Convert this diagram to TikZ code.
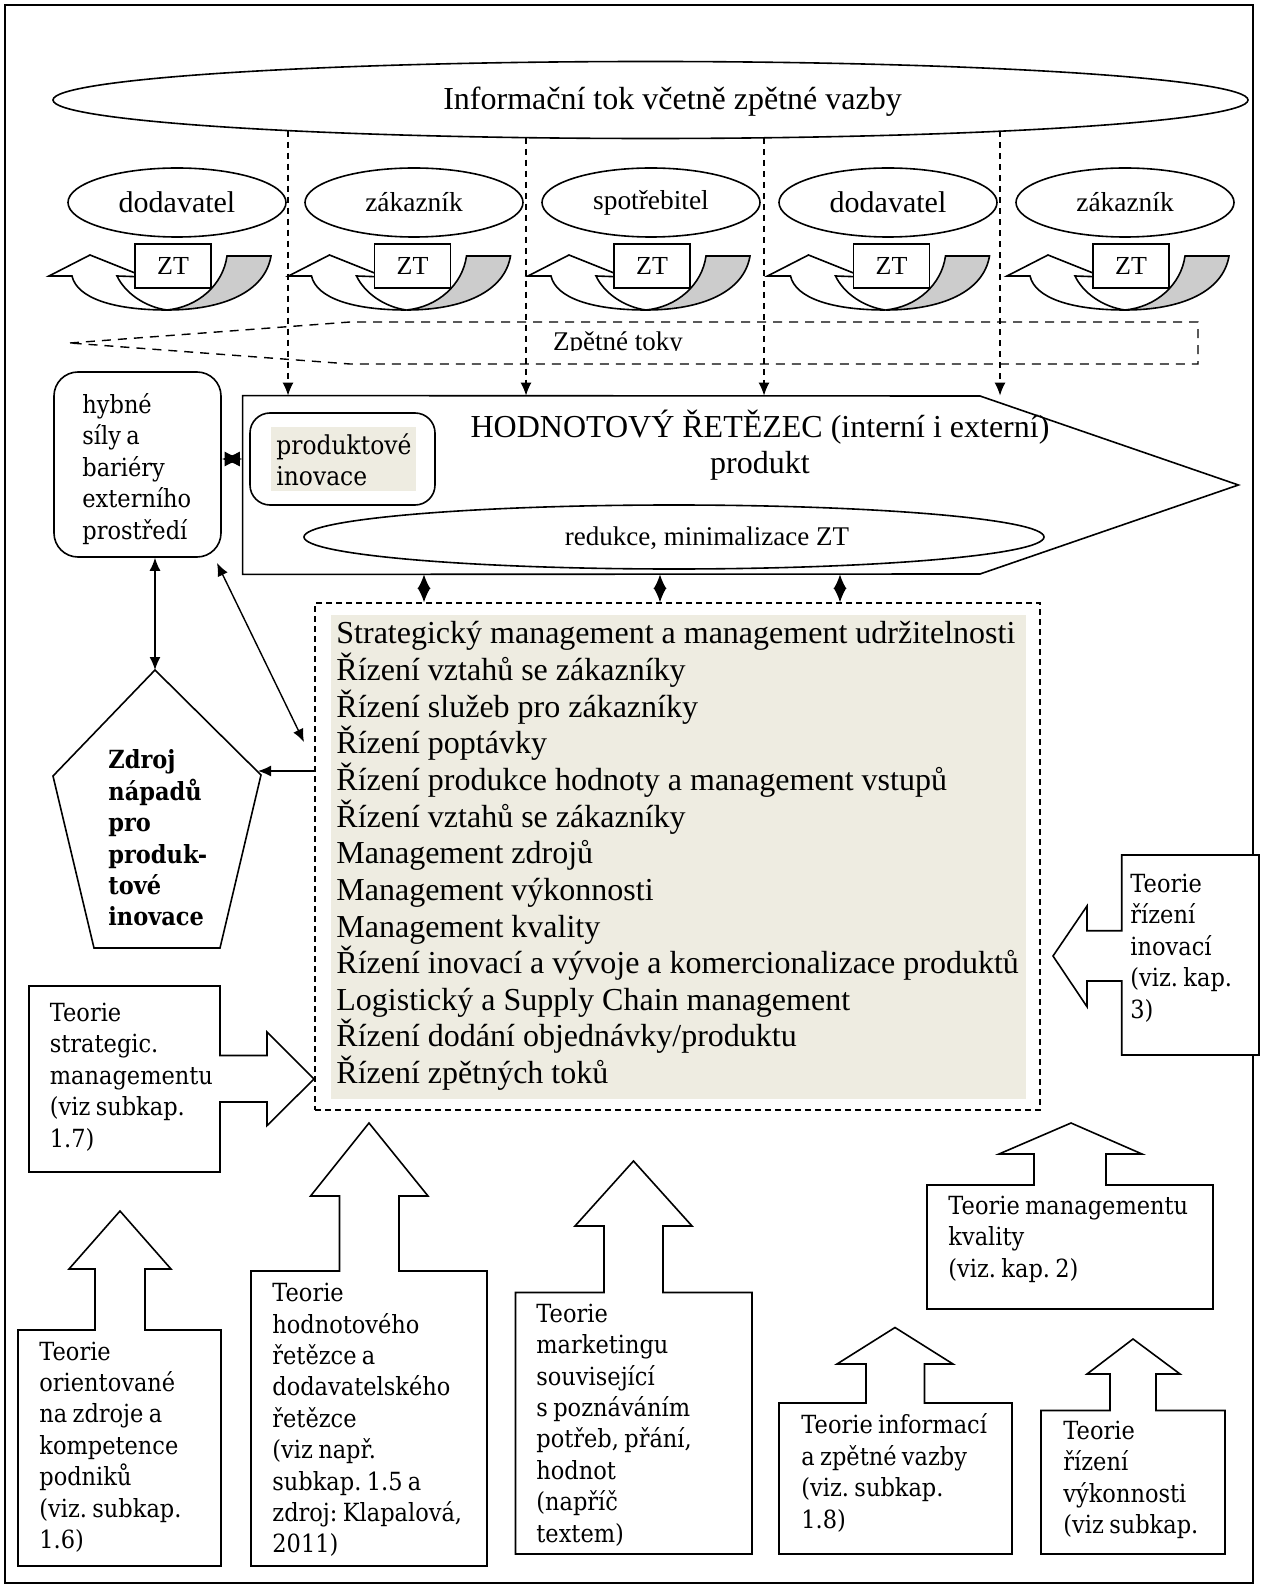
\documentclass[tikz,border=0pt]{standalone}
\usepackage{fontspec}
\setmainfont{Liberation Serif}
\newfontfamily\cam{DejaVu Serif}[FakeStretch=0.9,WordSpace=0.75]
\usetikzlibrary{arrows.meta,shapes.geometric}
\definecolor{beigebg}{HTML}{EEECE1}
\definecolor{bandgray}{RGB}{204,204,204}
\frenchspacing

\begin{document}
\begin{tikzpicture}[x=0.5pt,y=-0.5pt,
  outline/.style={draw=black,line width=0.8pt},
  conn/.style={line width=0.7pt},
  onehead/.style={-{Latex[length=6.5pt,width=5.5pt]}},
  twoheads/.style={{Latex[length=6.5pt,width=5.5pt]}-{Latex[length=6.5pt,width=5.5pt]}},
  flow/.style={line width=0.7pt,dash pattern=on 3pt off 2.5pt},
  partner/.style={ellipse,outline,minimum width=109pt,minimum height=34.5pt,inner sep=0pt},
  bigname/.style={font=\fontsize{15pt}{17pt}\selectfont},
  smallname/.style={font=\fontsize{13.7pt}{16pt}\selectfont},
  camtext/.style={font=\cam\fontsize{12.5pt}{15.7pt}\selectfont,align=left,inner sep=0pt,anchor=west},
  listtext/.style={font=\fontsize{16pt}{18.33pt}\selectfont,align=left,inner sep=0pt,anchor=west}]

\useasboundingbox (0,0) rectangle (1260,1588);
\draw[line width=0.6pt] (5,5) rectangle (1253,1583);

% information flow
\node[ellipse,outline,minimum width=597.5pt,minimum height=38.5pt,inner sep=0pt] (info) at (650.5,100) {};
\node[font=\fontsize{16pt}{19pt}\selectfont] (infotext) at (672.5,102) {Informační tok včetně zpětné vazby};

% partners of the chain
\node[partner,bigname] (p1) at (177,202.5) {\raisebox{-1.5pt}{dodavatel}};
\node[partner,smallname] (p2) at (414,202.5) {\raisebox{0.5pt}{zákazník}};
\node[partner,smallname] (p3) at (651,202.5) {\raisebox{0.5pt}{spotřebitel}};
\node[partner,bigname] (p4) at (888,202.5) {\raisebox{-1.5pt}{dodavatel}};
\node[partner,smallname] (p5) at (1125,202.5) {\raisebox{0.5pt}{zákazník}};

% transaction cost icons
\foreach \cx [count=\i] in {173,412.5,652,891.5,1131}{
  \begin{scope}[shift={(\cx,0)}]
    \filldraw[outline,fill=white] (-124,276) -- (-83,255) -- (-28,277) -- (-56,276)
      .. controls (-48,293) and (-28,307) .. (-6,310)
      .. controls (-60,310) and (-96,298) .. (-101,276) -- cycle;
    \filldraw[outline,fill=bandgray] (-6,310) .. controls (50,310) and (92,292) .. (98,256)
      -- (54,256) .. controls (50,285) and (25,307) .. (-6,310) -- cycle;
    \node[outline,fill=white,minimum width=38pt,minimum height=22pt,inner sep=0pt,
      font=\fontsize{13pt}{15pt}\selectfont] (zt\i) at (0,266) {ZT};
  \end{scope}
}

% return flows
\draw[line width=0.7pt,dash pattern=on 4.5pt off 3.5pt] (70,343) -- (350,322) -- (1198,322) -- (1198,364) -- (350,364) -- cycle;
\begin{scope}
  \clip (350,322) rectangle (1198,351);
  \node[font=\fontsize{13.5pt}{15pt}\selectfont,anchor=base,inner sep=0pt] (zpet) at (618,351) {Zpětné toky};
\end{scope}

% value chain
\node[minimum width=497.5pt,minimum height=89pt,inner sep=0pt] (vc) at (740.5,485) {};
\draw[outline] (vc.north west) -- (980,396) -- (vc.east) -- (980,574) -- (vc.south west) -- cycle;
\node[outline,rounded corners=10pt,minimum width=92.5pt,minimum height=46pt,inner sep=0pt] (prod) at (342.5,459) {};
\fill[beigebg] (271,427) rectangle (416,491);
\node[camtext,font=\cam\fontsize{13pt}{15.5pt}\selectfont] (prodtext) at (276,460) {produktové\\inovace};
\node[font=\fontsize{16pt}{18pt}\selectfont,align=center,inner sep=0pt] (vctext) at (760,445) {HODNOTOVÝ ŘETĚZEC (interní i externí)\\produkt};
\node[ellipse,outline,minimum width=370pt,minimum height=32pt,inner sep=0pt] (red) at (674,537) {};
\node[font=\fontsize{13.5pt}{16pt}\selectfont,inner sep=0pt] (redtext) at (707,538) {redukce, minimalizace ZT};

% driving forces
\node[outline,rounded corners=12pt,minimum width=83.5pt,minimum height=92.5pt,inner sep=0pt] (hyb) at (137.5,464.5) {};
\node[camtext] (hybtext) at (82,469) {hybné\\síly a\\bariéry\\externího\\prostředí};

% source of ideas
\coordinate (pt) at (155,670);
\coordinate (pr) at (261,775);
\draw[outline] (pt) -- (pr) -- (220,948) -- (94,948) -- (53,776) -- cycle;
\node[camtext,font=\cam\bfseries\fontsize{12.5pt}{15.7pt}\selectfont] (zdroj) at (108,838) {Zdroj\\nápadů\\pro\\produk-\\tové\\inovace};

% management areas
\node[draw,line width=0.7pt,dash pattern=on 3pt off 2pt,minimum width=362.5pt,minimum height=253.5pt,inner sep=0pt] (mgmt) at (677.5,856.5) {};
\fill[beigebg] (331,615) rectangle (1026,1099);
\node[listtext] (mgmttext) at (336,856) {Strategický management a management udržitelnosti\\
Řízení vztahů se zákazníky\\
Řízení služeb pro zákazníky\\
Řízení poptávky\\
Řízení produkce hodnoty a management vstupů\\
Řízení vztahů se zákazníky\\
Management zdrojů\\
Management výkonnosti\\
Management kvality\\
Řízení inovací a vývoje a komercionalizace produktů\\
Logistický a Supply Chain management\\
Řízení dodání objednávky/produktu\\
Řízení zpětných toků};

% connectors
\coordinate (f1) at (288,130.6);
\coordinate (f2) at (526,137.7);
\coordinate (f3) at (764,137.8);
\coordinate (f4) at (1000,131.2);
\foreach \i in {1,...,4}
  \draw[flow,onehead] (f\i) -- (f\i |- vc.north);

\coordinate (hs) at ([yshift=2.75pt]hyb.east);
\draw[conn,{Latex[length=9pt,width=7.5pt]}-{Latex[length=9pt,width=7.5pt]}] (hs) -- (hs -| vc.west);

\coordinate (q1) at (424,0);
\coordinate (q2) at (660,0);
\coordinate (q3) at (840,0);
\foreach \i in {1,2,3}
  \draw[conn,{Latex[length=7.2pt,width=6.5pt]}-{Latex[length=7.2pt,width=6.5pt]}] (q\i |- vc.south) -- (q\i |- mgmt.north);

\draw[conn,twoheads] (pt |- hyb.south) -- (pt);
\coordinate (c1) at (217,563);
\coordinate (c2) at (304,742);
\draw[conn,twoheads] (c1) -- (c2);
\coordinate (pa) at (258,771);
\draw[conn,onehead] (mgmt.west |- pa) -- (pa);

% theories feeding the management areas
\draw[outline] (29,986) -- (220,986) -- (220,1055.5) -- (267,1055.5) -- (267,1032) -- (314,1079) -- (267,1125.6) -- (267,1102) -- (220,1102) -- (220,1172) -- (29,1172) -- cycle;
\node[camtext] (tstrat) at (49.5,1077) {Teorie\\strategic.\\managementu\\(viz subkap.\\1.7)};

\draw[outline] (18,1566) -- (18,1330) -- (95,1330) -- (95,1269) -- (69,1269) -- (120,1211) -- (171,1269) -- (145,1269) -- (145,1330) -- (221,1330) -- (221,1566) -- cycle;
\node[camtext] (tA) at (39,1447) {Teorie\\orientované\\na zdroje a\\kompetence\\podniků\\(viz. subkap.\\1.6)};

\draw[outline] (251,1566) -- (251,1271) -- (339.5,1271) -- (339.5,1196) -- (310.6,1196) -- (369,1123) -- (428,1196) -- (399,1196) -- (399,1271) -- (487,1271) -- (487,1566) -- cycle;
\node[camtext] (tB) at (272,1420) {Teorie\\hodnotového\\řetězce a\\dodavatelského\\řetězce\\(viz např.\\subkap. 1.5 a\\zdroj: Klapalová,\\2011)};

\draw[outline] (515.5,1554) -- (515.5,1292.5) -- (604,1292.5) -- (604,1226) -- (575,1226) -- (633.5,1161) -- (692,1226) -- (663,1226) -- (663,1292.5) -- (752,1292.5) -- (752,1554) -- cycle;
\node[camtext] (tC) at (536,1425) {Teorie\\marketingu\\související\\s~poznáváním\\potřeb, přání,\\hodnot\\(napříč\\textem)};

\draw[outline] (927,1309) -- (927,1185) -- (1034,1185) -- (1034,1154) -- (999,1154) -- (1071,1123) -- (1142,1154) -- (1106,1154) -- (1106,1185) -- (1213,1185) -- (1213,1309) -- cycle;
\node[camtext] (tD) at (948,1239) {Teorie managementu\\kvality\\(viz. kap. 2)};

\draw[outline] (779,1554) -- (779,1403) -- (866,1403) -- (866,1364) -- (837,1364) -- (895,1327.5) -- (953,1364) -- (924.5,1364) -- (924.5,1403) -- (1012,1403) -- (1012,1554) -- cycle;
\node[camtext] (tE) at (801,1473) {Teorie informací\\a zpětné vazby\\(viz. subkap.\\1.8)};

\draw[outline] (1041,1554) -- (1041,1410.5) -- (1110,1410.5) -- (1110,1374) -- (1087,1374) -- (1133,1339) -- (1180,1374) -- (1156,1374) -- (1156,1410.5) -- (1225,1410.5) -- (1225,1554) -- cycle;
\node[camtext] (tF) at (1063,1480) {Teorie\\řízení\\výkonnosti\\(viz subkap.};

\filldraw[outline,fill=white] (1259,855) -- (1121.7,855) -- (1121.7,930.7) -- (1087,930.7) -- (1087,906) -- (1053,956) -- (1087,1006.7) -- (1087,981) -- (1121.7,981) -- (1121.7,1055) -- (1259,1055) -- cycle;
\node[camtext] (tG) at (1130,948) {Teorie\\řízení\\inovací\\(viz. kap.\\3)};

\end{tikzpicture}
\end{document}
